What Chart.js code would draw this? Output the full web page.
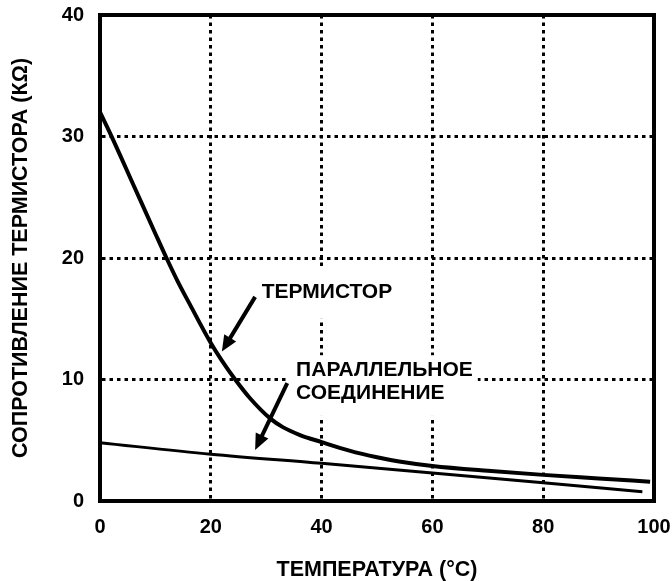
<!DOCTYPE html>
<html>
<head>
<meta charset="utf-8">
<script src="https://cdn.jsdelivr.net/npm/chart.js@4"></script>
<style>
  html, body { margin: 0; padding: 0; background: #fff; }
  #wrap { width: 672px; height: 581px; }
</style>
</head>
<body>
<div id="wrap"><canvas id="thermChart" width="672" height="581"></canvas></div>
<script>
// thermistor resistance vs temperature
const thermX = [0, 2, 6, 10, 12, 14, 16.2, 20, 22, 24.4, 27, 30.7, 33, 36, 40, 45, 50, 54, 60, 70, 80, 90, 99.3];
const thermY = [32, 30.1, 26.05, 22.0, 20, 18.1, 16.2, 13.0, 11.55, 10, 8.5, 6.8, 6.08, 5.45, 4.85, 4.15, 3.6, 3.25, 2.88, 2.48, 2.15, 1.86, 1.59];

// parallel combination
const parX = [0, 20, 40, 60, 80, 97.9];
const parY = [4.8, 3.85, 3.1, 2.3, 1.5, 0.77];

const xTicks = [0, 20, 40, 60, 80, 100];
const yTicks = [0, 10, 20, 30, 40];

// callouts, in data units
const labels = [
  { lines: ['ТЕРМИСТОР'], x: 29.2, y: 17.2, box: [28, 19.2, 54, 15.0] },
  { lines: ['ПАРАЛЛЕЛЬНОЕ', 'СОЕДИНЕНИЕ'], x: 35.4, y: 10.8, box: [33.8, 12.0, 68.2, 7.0] }
];
const arrows = [
  { from: [28, 16.8], to: [22, 12.3] },
  { from: [33.8, 9.7], to: [28, 4.2] }
];

const FONT = '"Liberation Sans", Arial, sans-serif';

const toPts = (xs, ys) => xs.map((x, i) => ({ x: x, y: ys[i] }));

const calloutPlugin = {
  id: 'callouts',
  beforeDatasetsDraw(chart) {
    const { ctx, scales: { x, y } } = chart;
    ctx.save();
    ctx.fillStyle = '#fff';
    labels.forEach(l => {
      const x0 = x.getPixelForValue(l.box[0]), y0 = y.getPixelForValue(l.box[1]);
      const x1 = x.getPixelForValue(l.box[2]), y1 = y.getPixelForValue(l.box[3]);
      ctx.fillRect(x0, y0, x1 - x0, y1 - y0);
    });
    ctx.restore();
  },
  afterDatasetsDraw(chart) {
    const { ctx, chartArea: a, scales: { x, y } } = chart;
    ctx.save();
    ctx.fillStyle = '#000';
    ctx.font = 'bold 21px ' + FONT;
    ctx.textBaseline = 'middle';
    labels.forEach(l => {
      l.lines.forEach((t, i) => {
        ctx.fillText(t, x.getPixelForValue(l.x), y.getPixelForValue(l.y) + i * 23);
      });
    });
    ctx.strokeStyle = '#000';
    ctx.lineWidth = 4;
    arrows.forEach(ar => {
      const x0 = x.getPixelForValue(ar.from[0]), y0 = y.getPixelForValue(ar.from[1]);
      const x1 = x.getPixelForValue(ar.to[0]), y1 = y.getPixelForValue(ar.to[1]);
      const ang = Math.atan2(y1 - y0, x1 - x0);
      const hl = 16, hw = 7;
      const bx = x1 - hl * Math.cos(ang), by = y1 - hl * Math.sin(ang);
      ctx.beginPath();
      ctx.moveTo(x0, y0);
      ctx.lineTo(bx + 2 * Math.cos(ang), by + 2 * Math.sin(ang));
      ctx.stroke();
      ctx.beginPath();
      ctx.moveTo(x1, y1);
      ctx.lineTo(bx + hw * Math.sin(ang), by - hw * Math.cos(ang));
      ctx.lineTo(bx - hw * Math.sin(ang), by + hw * Math.cos(ang));
      ctx.closePath();
      ctx.fill();
    });
    // frame round the plot
    ctx.lineWidth = 4;
    ctx.strokeRect(a.left, a.top, a.right - a.left, a.bottom - a.top);
    ctx.restore();
  }
};

const gridColor = (ends) => (c) => (c.tick && ends.includes(c.tick.value)) ? 'rgba(0,0,0,0)' : '#000';

const ctx = document.getElementById('thermChart').getContext('2d');
new Chart(ctx, {
  type: 'line',
  data: {
    datasets: [
      {
        label: 'Термистор',
        data: toPts(thermX, thermY),
        borderColor: '#000',
        borderWidth: 4,
        pointRadius: 0,
        cubicInterpolationMode: 'monotone',
        fill: false
      },
      {
        label: 'Параллельное соединение',
        data: toPts(parX, parY),
        borderColor: '#000',
        borderWidth: 3,
        pointRadius: 0,
        cubicInterpolationMode: 'monotone',
        fill: false
      }
    ]
  },
  options: {
    responsive: false,
    animation: false,
    layout: { padding: { top: 15, right: 18, left: 0, bottom: 0 } },
    plugins: { legend: { display: false }, tooltip: { enabled: false } },
    scales: {
      x: {
        type: 'linear',
        min: 0,
        max: 100,
        afterBuildTicks: (s) => { s.ticks = xTicks.map(v => ({ value: v })); },
        afterFit: (s) => { s.height = 80; s.paddingLeft = 0; s.paddingRight = 0; },
        ticks: { color: '#000', font: { family: FONT, size: 20, weight: 'bold' }, padding: 14, maxRotation: 0 },
        grid: { color: gridColor([0, 100]), lineWidth: 3, drawTicks: false },
        border: { display: true, color: '#000', width: 4, dash: [3.5, 4] },
        title: { display: true, text: 'ТЕМПЕРАТУРА (°C)', color: '#000', font: { family: FONT, size: 21.5, weight: 'bold' }, padding: { top: 0, bottom: -2 } }
      },
      y: {
        type: 'linear',
        min: 0,
        max: 40,
        afterBuildTicks: (s) => { s.ticks = yTicks.map(v => ({ value: v })); },
        afterFit: (s) => { s.width = 100; s.paddingTop = 0; s.paddingBottom = 0; },
        ticks: { color: '#000', font: { family: FONT, size: 20, weight: 'bold' }, padding: 16 },
        grid: { color: gridColor([0, 40]), lineWidth: 3, drawTicks: false },
        border: { display: true, color: '#000', width: 4, dash: [3.5, 4] },
        title: { display: true, text: 'СОПРОТИВЛЕНИЕ ТЕРМИСТОРА (КΩ)', color: '#000', font: { family: FONT, size: 21.5, weight: 'bold' }, padding: { top: 8, bottom: 0 } }
      }
    }
  },
  plugins: [calloutPlugin]
});
</script>
</body>
</html>
